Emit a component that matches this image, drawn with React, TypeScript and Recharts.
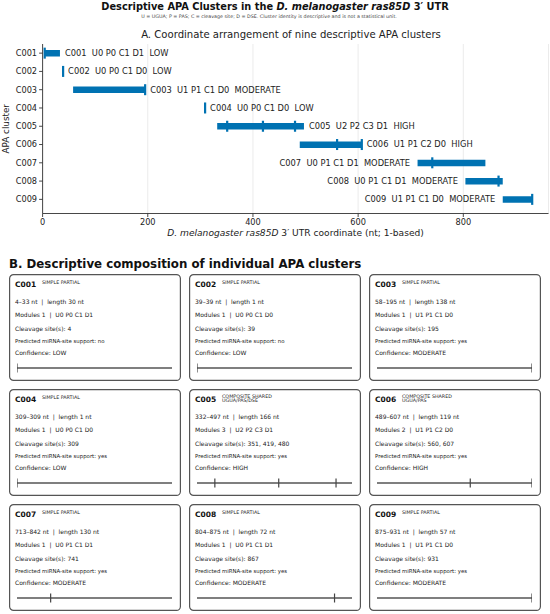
import React from "react";
import {
  Bar,
  CartesianGrid,
  ComposedChart,
  ReferenceLine,
  Scatter,
  ScatterChart,
  XAxis,
  YAxis,
} from "recharts";

const FONT = "'DejaVu Sans', Verdana, sans-serif";
const BLUE = "#0072B2";

const clusterIds = ["C001", "C002", "C003", "C004", "C005", "C006", "C007", "C008", "C009"];
const starts = [4, 39, 58, 309, 332, 489, 713, 804, 875];
const ends = [33, 39, 195, 309, 497, 607, 842, 875, 931];
const moduleCounts = [1, 1, 1, 1, 3, 2, 1, 1, 1];
const moduleCodes = [
  "U0 P0 C1 D1",
  "U0 P0 C1 D0",
  "U1 P1 C1 D0",
  "U0 P0 C1 D0",
  "U2 P2 C3 D1",
  "U1 P1 C2 D0",
  "U0 P1 C1 D1",
  "U0 P1 C1 D1",
  "U1 P1 C1 D0",
];
const confidence = ["LOW", "LOW", "MODERATE", "LOW", "HIGH", "HIGH", "MODERATE", "MODERATE", "MODERATE"];
const cleavageSites = [[4], [39], [195], [309], [351, 419, 480], [560, 607], [741], [867], [931]];
const mirnaSupport = ["no", "no", "yes", "yes", "yes", "yes", "yes", "yes", "yes"];
const clusterTypes = [
  ["SIMPLE PARTIAL"],
  ["SIMPLE PARTIAL"],
  ["SIMPLE PARTIAL"],
  ["SIMPLE PARTIAL"],
  ["COMPOSITE SHARED", "UGUA/PAS/DSE"],
  ["COMPOSITE SHARED", "UGUA/PAS"],
  ["SIMPLE PARTIAL"],
  ["SIMPLE PARTIAL"],
  ["SIMPLE PARTIAL"],
];
const xTicks = [0, 200, 400, 600, 800];
const xMax = 962;

// clusters ending near the right edge get their label on the left of the bar
const labelLeft = (i: number) => ends[i] > 650;

const rows = clusterIds.map((id, i) => ({
  id,
  span: [starts[i], ends[i]],
  s1: cleavageSites[i][0] ?? null,
  s2: cleavageSites[i][1] ?? null,
  s3: cleavageSites[i][2] ?? null,
  labelAt: labelLeft(i) ? starts[i] : ends[i],
}));

const barLabel = (i: number) => `${clusterIds[i]}  ${moduleCodes[i]}  ${confidence[i]}`;

function SiteMark(props: any) {
  const { cx, cy } = props;
  if (cx == null || cy == null || Number.isNaN(cx)) return <g />;
  return <rect x={cx - 1.1} y={cy - 5.5} width={2.2} height={11} fill={BLUE} />;
}

function BarText(props: any) {
  const { cx, cy, payload } = props;
  if (cx == null || cy == null) return <g />;
  const i = clusterIds.indexOf(payload.id);
  const left = labelLeft(i);
  return (
    <text
      x={left ? cx - 7.5 : cx + 5}
      y={cy}
      dy="0.35em"
      textAnchor={left ? "end" : "start"}
      fontSize={8.3}
      fill="#222"
      fontFamily={FONT}
      style={{ whiteSpace: "pre" }}
    >
      {barLabel(i)}
    </text>
  );
}

function XTitle(props: any) {
  const vb = props.viewBox;
  return (
    <text
      x={vb.x + vb.width / 2}
      y={vb.y + 22}
      textAnchor="middle"
      fontSize={9.1}
      fill="#222"
      fontFamily={FONT}
    >
      <tspan fontStyle="italic">D. melanogaster ras85D</tspan>
      <tspan> 3′ UTR coordinate (nt; 1-based)</tspan>
    </text>
  );
}

function YTitle(props: any) {
  const vb = props.viewBox;
  const cy = vb.y + vb.height / 2;
  return (
    <text
      x={9}
      y={cy}
      transform={`rotate(-90, 9, ${cy})`}
      textAnchor="middle"
      fontSize={8.8}
      fill="#222"
      fontFamily={FONT}
    >
      APA cluster
    </text>
  );
}

function PanelA() {
  const tickStyle = { fontSize: 8.2, fill: "#222", fontFamily: FONT };
  return (
    <ComposedChart
      layout="vertical"
      width={550}
      height={250}
      data={rows}
      margin={{ top: 44, right: 1.5, bottom: 8.5, left: 0 }}
    >
      <CartesianGrid horizontal={false} stroke="#e6e6e6" strokeWidth={0.8} />
      <XAxis
        type="number"
        domain={[0, xMax]}
        ticks={xTicks}
        allowDataOverflow
        height={28}
        tick={tickStyle}
        tickSize={3.5}
        tickMargin={2}
        axisLine={{ stroke: "#333", strokeWidth: 0.9 }}
        tickLine={{ stroke: "#333", strokeWidth: 0.9 }}
        label={<XTitle />}
      />
      <XAxis
        xAxisId="top"
        orientation="top"
        type="number"
        domain={[0, xMax]}
        height={0}
        tick={false}
        tickLine={false}
        axisLine={{ stroke: "#333", strokeWidth: 0.9 }}
      />
      <YAxis
        type="category"
        dataKey="id"
        width={42.6}
        padding={{ top: 0, bottom: 5 }}
        tick={tickStyle}
        tickSize={3.5}
        tickMargin={2}
        axisLine={{ stroke: "#333", strokeWidth: 0.9 }}
        tickLine={{ stroke: "#333", strokeWidth: 0.9 }}
        label={<YTitle />}
      />
      <YAxis
        yAxisId="right"
        orientation="right"
        type="category"
        dataKey="id"
        width={0}
        tick={false}
        tickLine={false}
        axisLine={{ stroke: "#333", strokeWidth: 0.9 }}
      />
      <Bar dataKey="span" barSize={6.5} fill={BLUE} isAnimationActive={false} />
      <Scatter dataKey="s1" shape={<SiteMark />} isAnimationActive={false} />
      <Scatter dataKey="s2" shape={<SiteMark />} isAnimationActive={false} />
      <Scatter dataKey="s3" shape={<SiteMark />} isAnimationActive={false} />
      <Scatter dataKey="labelAt" shape={<BarText />} isAnimationActive={false} />
    </ComposedChart>
  );
}

function TrackTick(props: any) {
  const { cx, cy } = props;
  if (cx == null || cy == null) return <g />;
  return <line x1={cx} x2={cx} y1={cy - 4.5} y2={cy + 4.5} stroke="#444" strokeWidth={1.2} />;
}

const CARD_W = 172;
const CARD_H = 107;

function ClusterCard({ i }: { i: number }) {
  const col = i % 3;
  const row = Math.floor(i / 3);
  const left = 9 + col * 180;
  const top = 274 + row * 115;
  const sites = cleavageSites[i].map((s) => ({ x: s, y: 0.5 }));
  const txt = { fontFamily: FONT, fill: "#222" };
  return (
    <div style={{ position: "absolute", left, top, width: CARD_W, height: CARD_H }}>
      <svg width={CARD_W} height={CARD_H} style={{ position: "absolute", left: 0, top: 0 }}>
        <rect
          x={0.6}
          y={0.6}
          width={CARD_W - 1.2}
          height={CARD_H - 1.2}
          rx={4}
          fill="#fff"
          stroke="#555"
          strokeWidth={1.2}
        />
        <text x={6} y={12.5} fontSize={7.5} fontWeight="bold" {...txt} fill="#111">
          {clusterIds[i]}
        </text>
        {clusterTypes[i].map((t, k) => (
          <text key={k} x={33} y={(clusterTypes[i].length > 1 ? 8.5 : 9.8) + k * 4.6} fontSize={4.8} {...txt}>
            {t}
          </text>
        ))}
        <text x={6} y={29.7} fontSize={6} {...txt} style={{ whiteSpace: "pre" }}>
          {`${starts[i]}–${ends[i]} nt  |  length ${ends[i] - starts[i] + 1} nt`}
        </text>
        <text x={6} y={43.3} fontSize={6} {...txt} style={{ whiteSpace: "pre" }}>
          {`Modules ${moduleCounts[i]}  |  ${moduleCodes[i]}`}
        </text>
        <text x={6} y={57} fontSize={6} {...txt}>
          {`Cleavage site(s): ${cleavageSites[i].join(", ")}`}
        </text>
        <text x={6} y={69.3} fontSize={5.4} {...txt}>
          {`Predicted miRNA-site support: ${mirnaSupport[i]}`}
        </text>
        <text x={6} y={81.3} fontSize={6} {...txt}>
          {`Confidence: ${confidence[i]}`}
        </text>
      </svg>
      <div style={{ position: "absolute", left: 0, top: 84 }}>
        <ScatterChart width={CARD_W} height={20} margin={{ top: 0, right: 9, bottom: 0, left: 8 }}>
          <XAxis
            type="number"
            dataKey="x"
            domain={[starts[i], Math.max(ends[i], starts[i] + 1)]}
            allowDataOverflow
            hide
          />
          <YAxis type="number" dataKey="y" domain={[0, 1]} hide />
          <ReferenceLine y={0.5} stroke="#555" strokeWidth={1.4} />
          <Scatter data={sites} shape={<TrackTick />} isAnimationActive={false} />
        </ScatterChart>
      </div>
    </div>
  );
}

export default function App() {
  return (
    <div
      style={{
        position: "absolute",
        left: 0,
        top: 0,
        width: 550,
        height: 614,
        background: "#fff",
        fontFamily: FONT,
      }}
    >
      <div style={{ position: "absolute", left: 0, top: 0 }}>
        <PanelA />
      </div>
      <svg
        width={550}
        height={280}
        style={{ position: "absolute", left: 0, top: 0, pointerEvents: "none" }}
      >
        <text x={275} y={10} textAnchor="middle" fontSize={9.8} fontWeight="bold" fontFamily={FONT} fill="#111">
          <tspan>Descriptive APA Clusters in the </tspan>
          <tspan fontStyle="italic">D. melanogaster ras85D</tspan>
          <tspan> 3′ UTR</tspan>
        </text>
        <text x={269} y={18.3} textAnchor="middle" fontSize={4.8} fontFamily={FONT} fill="#444">
          U = UGUA; P = PAS; C = cleavage site; D = DSE. Cluster identity is descriptive and is not a statistical unit.
        </text>
        <text x={291} y={37.7} textAnchor="middle" fontSize={10.1} fontFamily={FONT} fill="#222">
          A. Coordinate arrangement of nine descriptive APA clusters
        </text>
        <text x={9} y={268} fontSize={11.8} fontWeight="bold" fontFamily={FONT} fill="#111">
          B. Descriptive composition of individual APA clusters
        </text>
      </svg>
      {clusterIds.map((_, i) => (
        <ClusterCard key={i} i={i} />
      ))}
    </div>
  );
}
